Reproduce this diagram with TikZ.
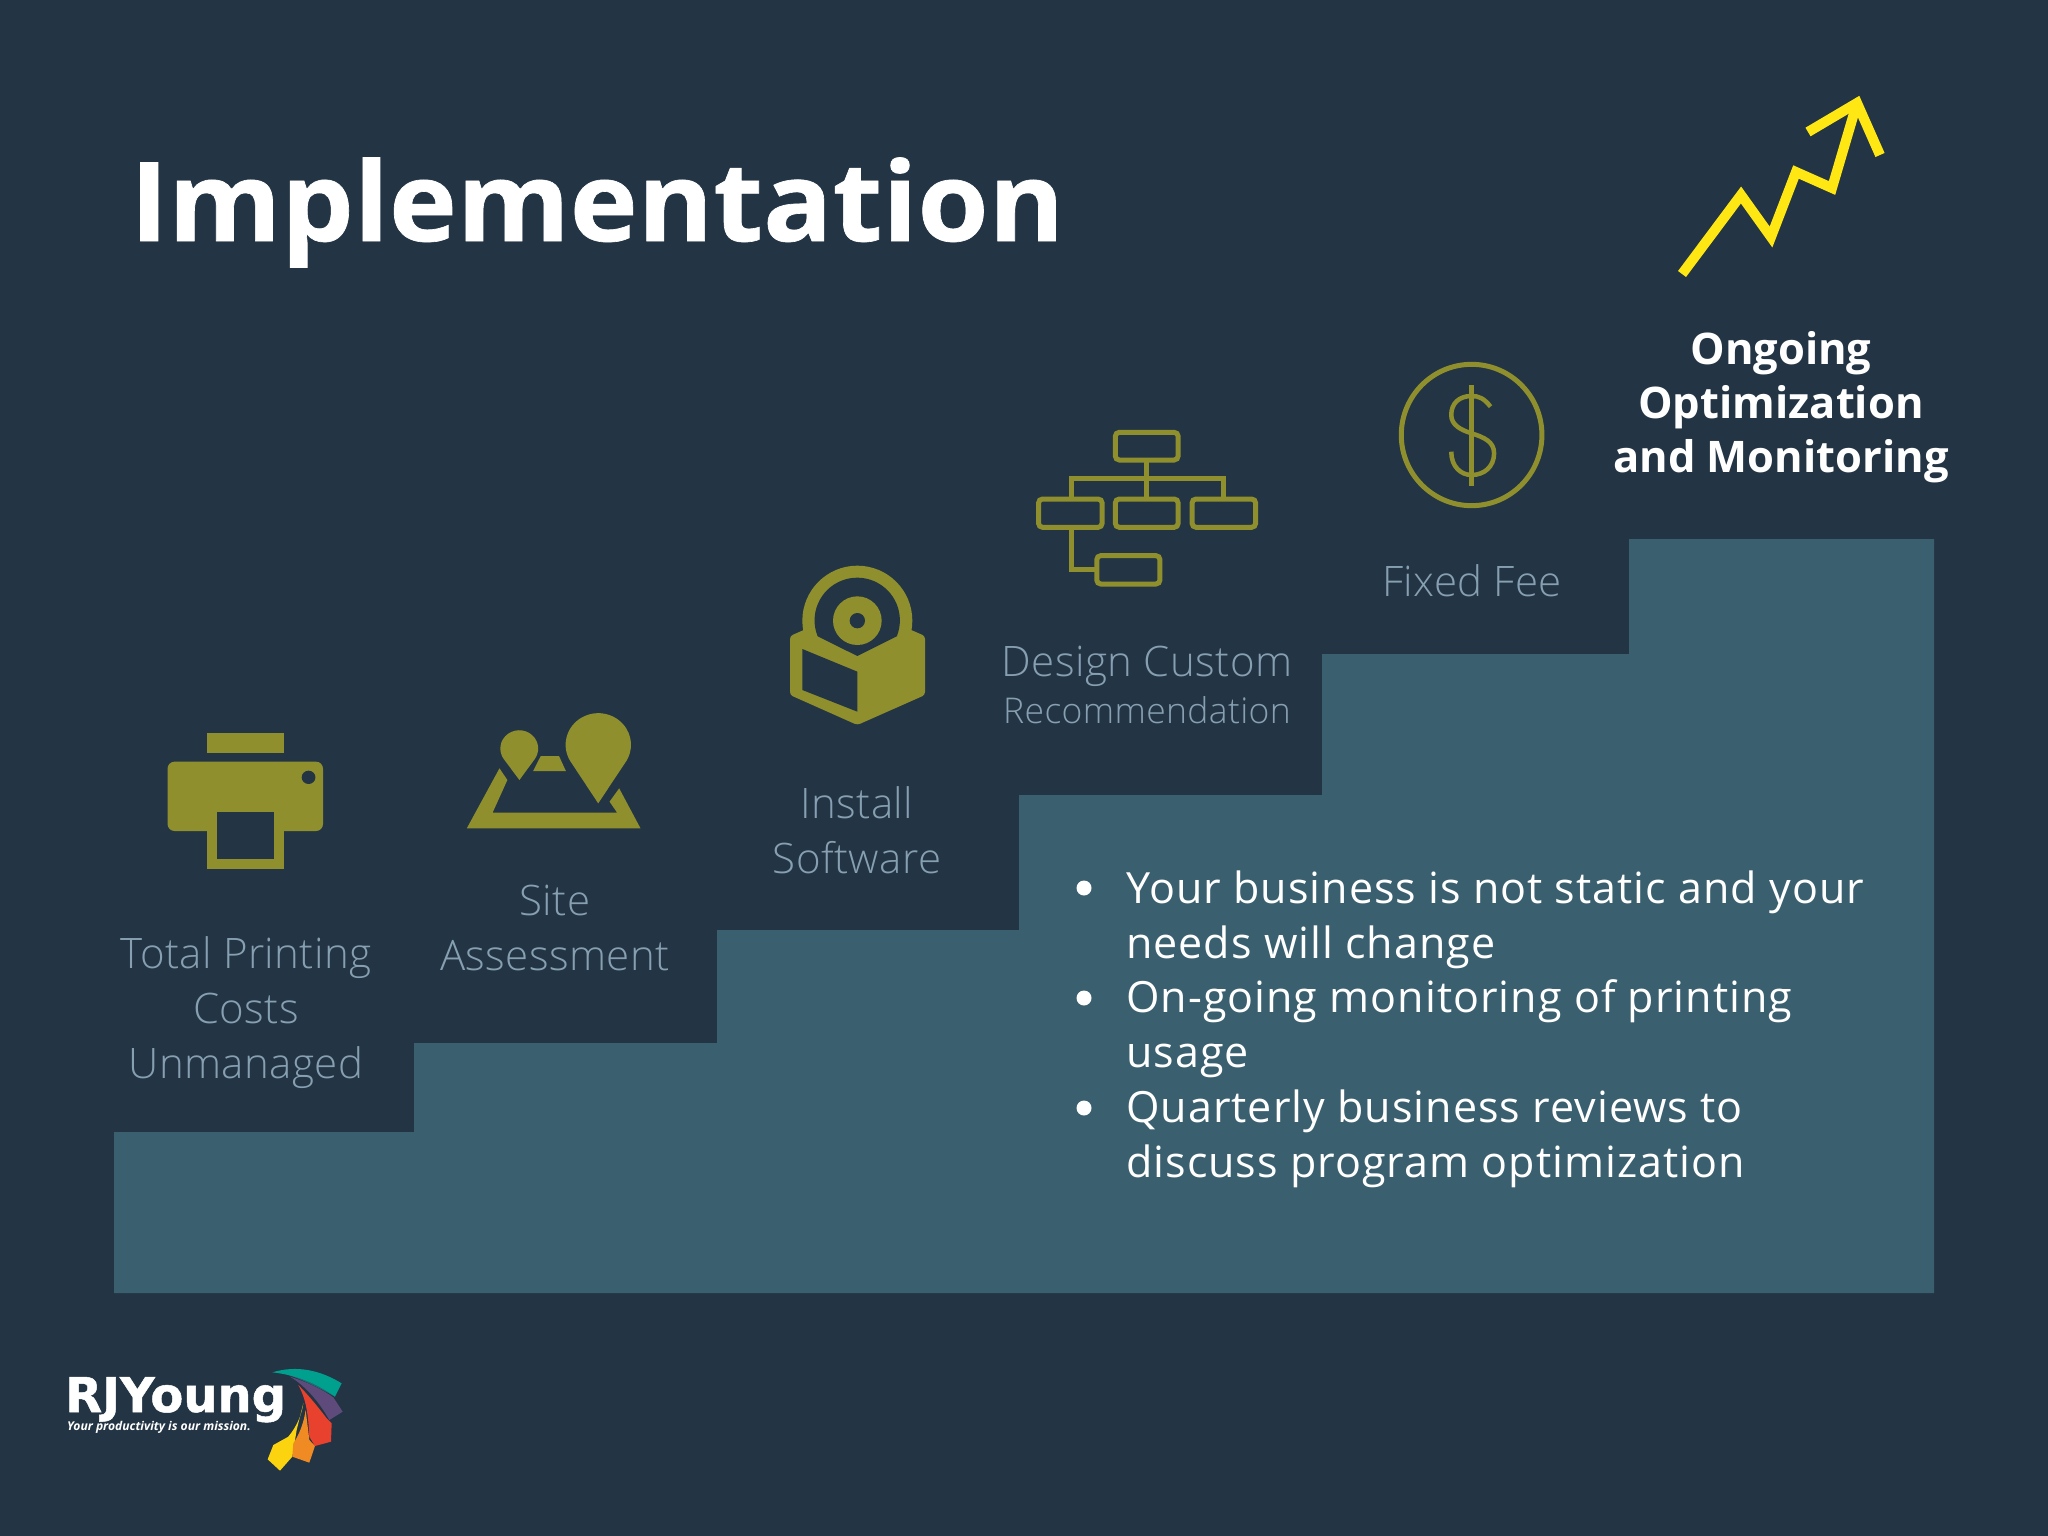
\documentclass[tikz,border=0pt]{standalone}
\usepackage{fontspec}
\setmainfont{Open Sans}
\newfontfamily\titlefont[FakeStretch=1.045,BoldFeatures={FakeBold=0.6}]{Open Sans}
\newfontfamily\bodyfont[LetterSpace=2.4]{Open Sans}
\newfontfamily\lightfont[LetterSpace=1]{Open Sans Light}
\newfontfamily\logofont[BoldFeatures={FakeBold=1}]{DejaVu Sans}
\definecolor{slide}{HTML}{233444}
\definecolor{stairs}{HTML}{3A5F6F}
\definecolor{olive}{HTML}{8F8F2D}
\definecolor{labelgrey}{HTML}{86A0B2}
\definecolor{spark}{HTML}{FFE714}
\definecolor{logoteal}{HTML}{00A08F}
\definecolor{logodeep}{HTML}{1F6B70}
\definecolor{logopurple}{HTML}{5E4B7C}
\definecolor{logored}{HTML}{E8412E}
\definecolor{logoorange}{HTML}{F08A22}
\definecolor{logoyellow}{HTML}{FBD30F}
\tikzset{
  steplabel/.style={text=labelgrey, align=center, inner sep=0pt, font=\lightfont\fontsize{42}{55}\selectfont},
  bodytext/.style={text=white, align=left, anchor=west, inner sep=0pt, font=\bodyfont\fontsize{43}{55}\selectfont},
  bulletdot/.style={circle, fill=white, inner sep=0pt, minimum size=15pt},
  chartbox/.style={draw=olive, line width=5pt, rounded corners=4pt},
  chartline/.style={draw=olive, line width=5pt},
  sparkline/.style={draw=spark, line width=10pt, miter limit=10},
}
\begin{document}
\begin{tikzpicture}[x=1pt, y=-1pt]
\fill[slide] (0,0) rectangle (2048,1536);
\useasboundingbox (0,0) rectangle (2048,1536);

% stairs
\fill[stairs] (114,1293) -- (114,1132) -- (414,1132) -- (414,1043) -- (717,1043) -- (717,930)
  -- (1019,930) -- (1019,795) -- (1322,795) -- (1322,654) -- (1629,654) -- (1629,539)
  -- (1934,539) -- (1934,1293) -- cycle;

\node[anchor=base west, inner sep=0pt, text=white, font=\titlefont\bfseries\fontsize{110}{120}\selectfont] (title) at (130,241) {Implementation};

% printer
\begin{scope}[shift={(140,700)}, xscale=0.344, yscale=1/3]
\fill[olive] (195,100) rectangle (420,160);
\fill[olive, rounded corners=7pt] (80,185) rectangle (532,393);
\fill[slide] (490,232) circle (20);
\fill[olive] (195,380) rectangle (420,508);
\fill[slide] (224,335) rectangle (390,477);
% map
\fill[olive] (950,385) -- (1045,205) -- (1068,240) -- (1025,338) -- (1387,338) -- (1365,305) -- (1393,265) -- (1455,385) -- cycle;
\fill[olive] (1165,168) -- (1218,168) -- (1238,213) -- (1143,213) -- cycle;
\fill[olive] (1103,240) -- (1058,178) arc (144:396:55) -- cycle;
\fill[olive] (1332,310) -- (1250,182) arc (150:390:95) -- cycle;
\end{scope}

% software box
\begin{scope}[shift={(770,550)}, scale=1/3]
\fill[olive] (262,212) circle (165);
\fill[olive, rounded corners=3pt] (60,258) -- (262,170) -- (465,258) -- (465,435) -- (262,525) -- (60,435) -- cycle;
\fill[slide] (143,259) arc (158:382:128) -- (262,318) -- cycle;
\fill[olive] (262,212) circle (73);
\fill[slide] (262,212) circle (23);
\fill[slide] (97,297) -- (262,365) -- (262,485) -- (97,420) -- cycle;
\end{scope}

% org chart and dollar
\begin{scope}[shift={(1020,350)}, xscale=0.357, yscale=1/3]
\draw[chartbox] (267,247) rectangle (443,330);
\draw[chartbox] (52,447) rectangle (230,532);
\draw[chartbox] (267,447) rectangle (443,532);
\draw[chartbox] (482,447) rectangle (660,532);
\draw[chartbox] (215,617) rectangle (392,702);
\draw[chartline] (355,330) -- (355,447);
\draw[chartline] (145,447) -- (145,385) -- (570,385) -- (570,447);
\draw[chartline] (145,532) -- (145,658) -- (215,658);
\draw[olive, line width=5pt] (1265,255) ellipse (197 and 212);
\draw[olive, line width=4.5pt] (1265,105) -- (1265,408);
\draw[olive, line width=4.5pt] (1318,170) .. controls (1300,145) and (1285,138) .. (1265,138)
  .. controls (1230,138) and (1208,160) .. (1208,195)
  .. controls (1208,225) and (1235,240) .. (1265,250)
  .. controls (1300,262) and (1328,275) .. (1328,310)
  .. controls (1328,350) and (1300,375) .. (1265,375)
  .. controls (1235,375) and (1208,350) .. (1208,305);
\end{scope}

% rising arrow
\draw[sparkline] (1682,274) -- (1741,195) -- (1771,237) -- (1796,172) -- (1832,188) -- (1857,103);
\draw[sparkline] (1808,132) -- (1857,103) -- (1880,155);

\node[steplabel] (printing) at (246,1013) {Total Printing\\Costs\\Unmanaged};
\node[steplabel] (site) at (555,928) {Site\\Assessment};
\node[steplabel] (install) at (857,830) {Install\\Software};
\node[steplabel] (design) at (1147,666) {Design Custom};
\node[steplabel, font=\lightfont\fontsize{35.5}{42}\selectfont] (recommend) at (1147,710) {Recommendation};
\node[steplabel] (fee) at (1472,581) {Fixed Fee};
\node[align=center, inner sep=0pt, text=white, font=\bfseries\fontsize{43.5}{54}\selectfont] (ongoing) at (1781,407) {Ongoing\\Optimization\\and Monitoring};

\node[bulletdot] (dotA) at (1084,888) {};
\node[bulletdot] (dotB) at (1084,998) {};
\node[bulletdot] (dotC) at (1084,1108) {};
\node[bodytext] (textA) at (1126,920) {Your business is not static and your\\needs will change};
\node[bodytext] (textB) at (1126,1029) {On-going monitoring of printing\\usage};
\node[bodytext] (textC) at (1126,1139) {Quarterly business reviews to\\discuss program optimization};

% logo
\begin{scope}[shift={(40,1340)}, scale=1/3]
\fill[logoyellow] (790,190) -- (770,270) -- (757,350) -- (720,392) -- (683,358) -- (700,315) -- (745,290) .. controls (770,260) and (785,225) .. (790,190) -- cycle;
\fill[logoorange] (797,210) -- (808,300) -- (825,318) -- (808,368) -- (757,350) -- (760,310) .. controls (780,280) and (792,245) .. (797,210) -- cycle;
\fill[logored] (775,135) .. controls (800,160) and (830,195) .. (860,235) -- (875,250) -- (873,305) -- (825,318) -- (808,290) .. controls (805,230) and (800,180) .. (775,135) -- cycle;
\fill[logopurple] (750,110) .. controls (800,125) and (850,150) .. (880,172) -- (908,215) -- (868,240) .. controls (840,190) and (800,140) .. (750,110) -- cycle;
\fill[logodeep] (745,105) -- (820,110) -- (885,170) .. controls (840,145) and (790,120) .. (745,105) -- cycle;
\fill[logoteal] (697,97) .. controls (770,75) and (840,90) .. (905,130) -- (885,170) .. controls (830,130) and (770,105) .. (697,97) -- cycle;
\end{scope}
\node[anchor=base west, inner sep=0pt, text=white, font=\logofont\bfseries\fontsize{48}{50}\selectfont] (logoname) at (65,1412) {RJYoung};
\node[anchor=base west, inner sep=0pt, text=white, font=\bfseries\itshape\fontsize{12.1}{14}\selectfont] (logotag) at (67,1430) {Your productivity is our mission.};
\end{tikzpicture}
\end{document}
